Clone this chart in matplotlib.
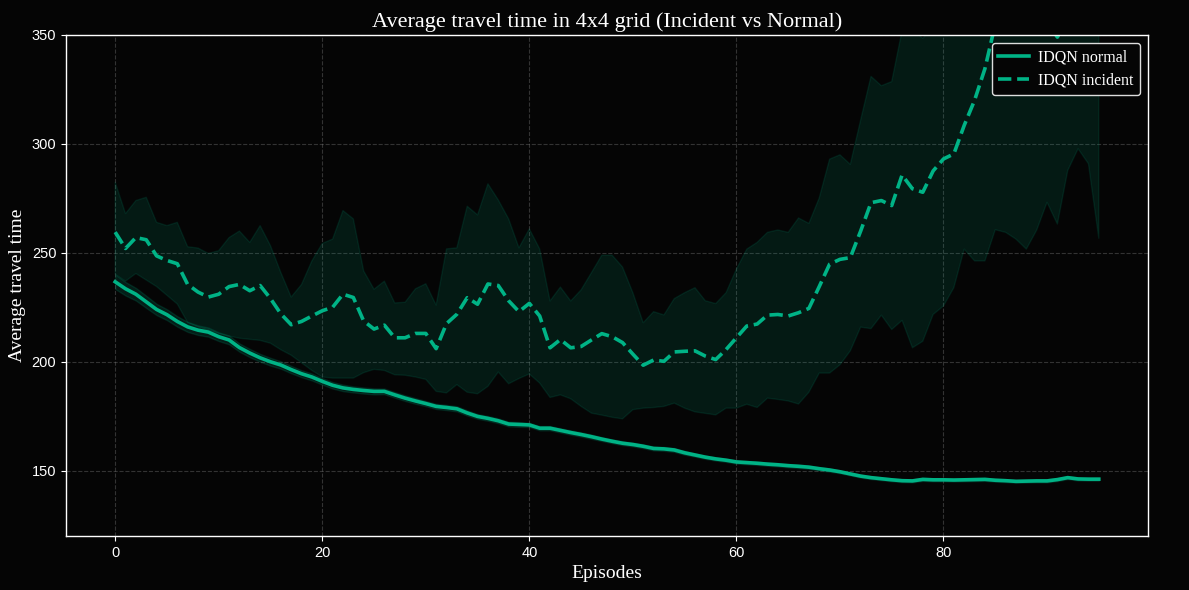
import matplotlib
matplotlib.use("Agg")
import matplotlib.pyplot as plt
from matplotlib import font_manager
import numpy as np

# ── data ──────────────────────────────────────────────────────────────────────
episodes = list(range(96))

normal_mean = [
    236.7, 233.5, 231.0, 227.5, 224.0, 221.6, 218.5, 216.0, 214.5, 213.6,
    211.5, 210.0, 206.5, 204.0, 201.8, 200.0, 198.5, 196.4, 194.5, 193.0,
    191.0, 189.2, 188.0, 187.3, 186.8, 186.4, 186.4, 184.8, 183.3, 182.0,
    180.8, 179.5, 179.0, 178.4, 176.5, 174.9, 174.0, 172.9, 171.4, 171.2,
    171.0, 169.5, 169.5, 168.5, 167.5, 166.6, 165.6, 164.5, 163.5, 162.6,
    162.0, 161.2, 160.2, 160.0, 159.5, 158.2, 157.2, 156.2, 155.4, 154.8,
    154.0, 153.7, 153.4, 153.0, 152.7, 152.3, 152.0, 151.6, 150.9, 150.3,
    149.5, 148.5, 147.5, 146.8, 146.3, 145.8, 145.4, 145.3, 146.0, 145.8,
    145.8, 145.7, 145.8, 145.9, 146.0, 145.6, 145.4, 145.1, 145.2, 145.3,
    145.3, 145.9, 146.8, 146.2, 146.1, 146.1,
]
normal_std = [
    3.3, 3.1, 2.9, 2.8, 2.6, 2.5, 2.4, 2.3, 2.2, 2.1,
    2.0, 2.0, 1.9, 1.9, 1.8, 1.8, 1.7, 1.7, 1.6, 1.6,
    1.5, 1.5, 1.5, 1.4, 1.4, 1.4, 1.3, 1.3, 1.3, 1.3,
    1.2, 1.2, 1.2, 1.2, 1.2, 1.1, 1.1, 1.1, 1.1, 1.1,
    1.0, 1.0, 1.0, 1.0, 1.0, 1.0, 1.0, 0.9, 0.9, 0.9,
    0.9, 0.9, 0.9, 0.9, 0.9, 0.9, 0.8, 0.8, 0.8, 0.8,
    0.8, 0.8, 0.8, 0.8, 0.8, 0.8, 0.8, 0.8, 0.8, 0.8,
    0.7, 0.7, 0.7, 0.7, 0.7, 0.7, 0.7, 0.7, 0.7, 0.7,
    0.7, 0.7, 0.7, 0.7, 0.7, 0.7, 0.7, 0.7, 0.7, 0.7,
    0.7, 0.7, 0.7, 0.7, 0.7, 0.7,
]

incident_mean = [
    259.5, 252.0, 257.0, 256.0, 248.6, 246.5, 245.0, 235.5, 232.0, 229.7,
    231.0, 234.5, 235.5, 232.6, 235.0, 229.0, 222.0, 217.0, 218.5, 221.0,
    223.4, 225.0, 231.0, 229.5, 218.7, 215.0, 216.8, 211.0, 211.0, 213.0,
    213.0, 206.0, 217.5, 221.8, 229.4, 226.4, 235.7, 235.0, 228.0, 223.0,
    226.8, 221.0, 206.4, 210.2, 206.4, 207.0, 210.0, 212.9, 211.5, 208.8,
    203.5, 198.4, 200.8, 200.2, 204.5, 204.8, 205.0, 202.6, 201.0, 205.6,
    211.0, 216.4, 217.3, 221.4, 221.7, 221.0, 222.5, 224.5, 234.5, 244.8,
    247.0, 247.8, 260.0, 273.0, 274.0, 271.7, 285.7, 279.4, 277.8, 287.6,
    293.1, 295.4, 308.5, 320.0, 334.5, 355.0, 372.0, 385.0, 378.0, 366.0,
    356.0, 349.0, 358.0, 374.0, 368.0, 362.0,
]
incident_upper = [
    282.4, 268.0, 274.0, 275.5, 264.0, 262.5, 264.0, 252.8, 252.2, 249.7,
    251.0, 257.0, 260.0, 254.8, 262.5, 253.3, 241.0, 229.7, 235.5, 246.3,
    254.3, 256.3, 269.4, 265.6, 241.7, 233.3, 237.0, 227.0, 227.3, 233.5,
    235.8, 226.0, 251.8, 252.3, 271.4, 267.4, 281.7, 274.3, 265.6, 252.3,
    261.0, 251.8, 227.9, 234.3, 227.9, 233.0, 240.9, 248.9, 248.9, 243.5,
    231.7, 217.9, 223.0, 221.5, 229.0, 231.7, 234.0, 228.0, 226.7, 231.7,
    242.5, 251.7, 254.8, 259.4, 260.5, 259.4, 266.0, 263.5, 275.2, 293.0,
    295.0, 290.6, 311.0, 331.0, 326.7, 328.6, 352.0, 352.4, 348.5, 353.5,
    360.6, 356.8, 365.0, 393.0, 422.0, 449.0, 484.0, 514.0, 504.0, 472.0,
    439.0, 435.0, 428.0, 450.0, 445.0, 467.0,
]
incident_lower = [
    240.2, 237.0, 240.5, 237.5, 234.5, 230.5, 226.5, 218.0, 216.0, 214.5,
    213.0, 211.8, 210.8, 210.3, 209.8, 208.5, 205.5, 203.0, 199.5, 196.0,
    193.0, 192.5, 192.5, 192.5, 195.0, 196.5, 196.0, 194.0, 193.8, 193.0,
    191.9, 186.4, 185.7, 189.5, 186.0, 185.3, 188.7, 195.3, 189.9, 192.3,
    194.4, 190.2, 183.6, 184.8, 183.0, 179.5, 176.4, 175.5, 174.5, 173.8,
    178.0, 178.7, 179.0, 179.5, 181.0, 178.7, 177.0, 176.3, 175.6, 178.7,
    178.7, 180.5, 179.0, 183.3, 182.7, 182.0, 180.6, 186.0, 194.8, 194.8,
    198.6, 205.0, 215.9, 215.2, 221.4, 214.8, 219.0, 206.4, 209.4, 221.7,
    225.6, 234.0, 251.7, 246.3, 246.3, 260.6, 259.4, 256.3, 251.7, 260.4,
    273.2, 263.2, 287.8, 297.8, 290.9, 256.7,
]

# ── style ─────────────────────────────────────────────────────────────────────
C_LINE = "#00b386"
C_BG = "#050505"

installed = {f.name for f in font_manager.fontManager.ttflist}
TICK_FONT = "Liberation Sans Narrow" if "Liberation Sans Narrow" in installed else "Liberation Sans"
SERIF = "Liberation Serif"

x = np.array(episodes)
n_mean = np.array(normal_mean)
n_std = np.array(normal_std)

fig, ax = plt.subplots(figsize=(11.89, 5.9), dpi=100)
fig.patch.set_facecolor(C_BG)
ax.set_facecolor(C_BG)

ax.fill_between(x, n_mean - n_std, n_mean + n_std, color=C_LINE, alpha=0.15, linewidth=1)
ax.plot(x, n_mean, color=C_LINE, linewidth=2.6, label="IDQN normal")
ax.fill_between(x, incident_lower, incident_upper, color=C_LINE, alpha=0.12, linewidth=1)
ax.plot(x, incident_mean, color=C_LINE, linewidth=2.6, linestyle="--", label="IDQN incident")

ax.set_ylim(120, 350)
ax.set_yticks([150, 200, 250, 300, 350])
ax.set_xticks([0, 20, 40, 60, 80])

ax.grid(True, linestyle="--", color="#8a8a8a", alpha=0.35, linewidth=0.8)
ax.set_axisbelow(True)

for s in ax.spines.values():
    s.set_color("white")
    s.set_linewidth(1.0)
ax.tick_params(colors="white", labelsize=10.5)
for lbl in ax.get_xticklabels() + ax.get_yticklabels():
    lbl.set_family(TICK_FONT)

ax.set_title("Average travel time in 4x4 grid (Incident vs Normal)",
             color="white", fontsize=16, family=SERIF)
ax.set_xlabel("Episodes", color="white", fontsize=14, family=SERIF)
ax.set_ylabel("Average travel time", color="white", fontsize=14, family=SERIF)

leg = ax.legend(loc="upper right", facecolor=C_BG, edgecolor="#dddddd",
                framealpha=1.0, prop={"family": SERIF, "size": 11.5},
                handlelength=1.9, handletextpad=0.6, borderpad=0.4,
                labelspacing=0.45, borderaxespad=0.5)
for t in leg.get_texts():
    t.set_color("white")

fig.subplots_adjust(left=0.0555, right=0.9655, top=0.9407, bottom=0.0915)
fig.savefig("out.png", dpi=100, facecolor=C_BG)
